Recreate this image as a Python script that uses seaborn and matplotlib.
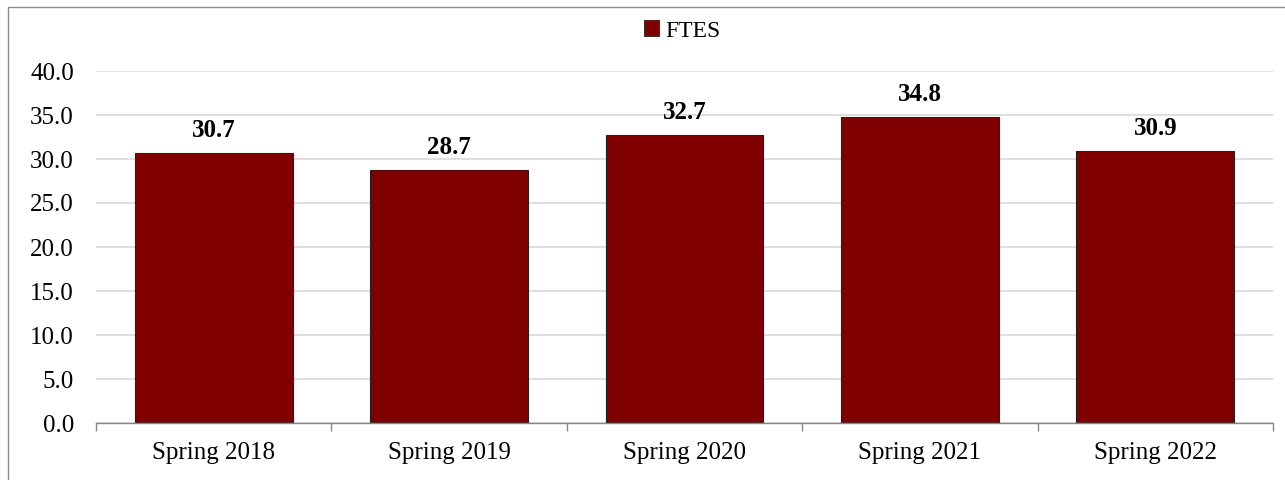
import matplotlib
matplotlib.use("Agg")
import matplotlib.pyplot as plt
import seaborn as sns
import pandas as pd
from matplotlib.patches import Rectangle, Patch

terms = ["Spring 2018", "Spring 2019", "Spring 2020", "Spring 2021", "Spring 2022"]
ftes = [30.7, 28.7, 32.7, 34.8, 30.9]
yticks = [0, 5, 10, 15, 20, 25, 30, 35, 40]

df = pd.DataFrame({"Term": terms, "FTES": ftes})

sns.set_style("white")
plt.rcParams["font.family"] = ["Liberation Serif", "DejaVu Serif"]
plt.rcParams["text.color"] = "black"
plt.rcParams["xtick.color"] = "black"
plt.rcParams["ytick.color"] = "black"

fig = plt.figure(figsize=(12.85, 4.8), dpi=100)
W, H = 1285, 480
ax = fig.add_axes([96 / W, 1 - 423 / H, (1273 - 96) / W, (423 - 71) / H])

bar_color = "#800000"
sns.barplot(data=df, x="Term", y="FTES", color=bar_color, edgecolor="#202020",
            linewidth=0.8, width=0.67, saturation=1, ax=ax)

ax.set_ylim(0, 40)
ax.set_xlim(-0.5, len(terms) - 0.5)
ax.set_yticks(yticks)
ax.set_yticklabels([f"{v:.1f}" for v in yticks], fontsize=18, color="black")
ax.yaxis.grid(True, color="#d9d9d9", linewidth=1.2)
ax.set_axisbelow(True)
ax.set_xlabel("")
ax.set_ylabel("")

for s in ["top", "right", "left"]:
    ax.spines[s].set_visible(False)
ax.spines["bottom"].set_color("#868686")
ax.spines["bottom"].set_linewidth(1.0)

# category boundary ticks on the x axis
ax.set_xticks(range(len(terms)))
ax.set_xticklabels(terms, fontsize=18, color="black")
ax.tick_params(axis="x", which="major", length=0, pad=14)
ax.tick_params(axis="y", length=0, pad=16)
ax.set_xticks([i - 0.5 for i in range(len(terms) + 1)], minor=True)
ax.tick_params(axis="x", which="minor", bottom=True, length=6, color="#868686",
               width=1.0, direction="out")

for c in ax.containers:
    ax.bar_label(c, labels=[f"{v:.1f}" for v in ftes], fontsize=18,
                 fontweight="bold", padding=8, color="black")

handle = Patch(facecolor=bar_color, edgecolor="#202020", linewidth=0.6)
fig.legend([handle], ["FTES"], loc="center", bbox_to_anchor=(682 / W, 1 - 31 / H),
           frameon=False, fontsize=17, handlelength=0.65, handleheight=0.65,
           handletextpad=0.25)

fig.patches.append(Rectangle((8 / W, -0.05), 1.2, 1 - 7 / H + 0.05,
                             transform=fig.transFigure, fill=False,
                             edgecolor="#8c8c8c", linewidth=1.0))

fig.savefig("out.png", dpi=100)
